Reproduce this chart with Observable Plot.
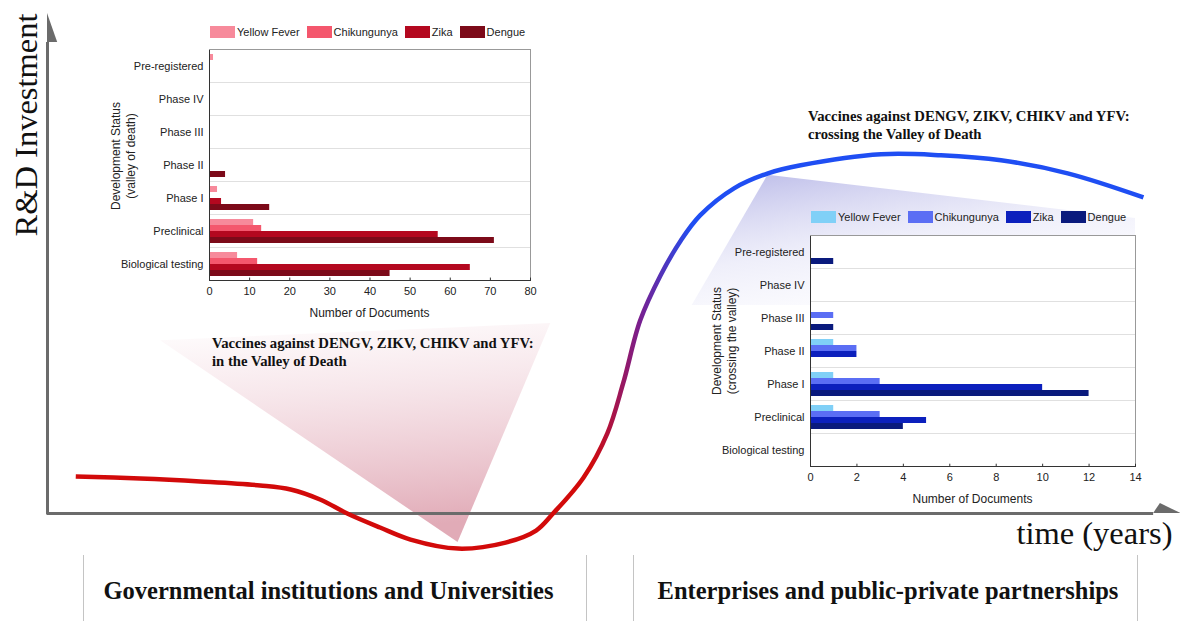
<!DOCTYPE html>
<html><head><meta charset="utf-8">
<script src="https://cdn.jsdelivr.net/npm/d3@7"></script>
<script src="https://cdn.jsdelivr.net/npm/@observablehq/plot@0.6"></script>
<style>
html,body{margin:0;padding:0;background:#fff}
#root{position:relative;width:1180px;height:621px;overflow:hidden;background:#fff}
#root > *{position:absolute;margin:0}
.serif{font-family:"Liberation Serif","Times New Roman",serif;color:#111}
.ann{font-weight:bold;font-size:14.7px;line-height:18px;white-space:nowrap}
.bottom{font-weight:bold;font-size:24.5px;line-height:28px;text-align:center;white-space:nowrap}
.sep{width:0;border-left:1px solid #c4c4c4;top:555px;height:66px}
.lgv-swatch{margin-right:7px !important}
.lgv-swatch > svg{margin-right:2px !important}
.axl{font-family:"Liberation Sans",Arial,sans-serif;font-size:12px;line-height:15px;color:#222;text-align:center;white-space:nowrap;transform:translate(-50%,-50%)}
.axl.rot{transform:translate(-50%,-50%) rotate(-90deg)}
</style></head><body><div id="root"></div>
<script>
// ---------- data ----------
const stages = ["Pre-registered","Phase IV","Phase III","Phase II","Phase I","Preclinical","Biological testing"];
const diseases = ["Yellow Fever","Chikungunya","Zika","Dengue"];
// "in the Valley of Death" (number of documents per stage, stage order above)
const valleyYellowFever = [1,0,0,0,2,11,7];
const valleyChikungunya = [0,0,0,0,0,13,12];
const valleyZika        = [0,0,0,0,3,57,65];
const valleyDengue      = [0,0,0,4,15,71,45];
const valleyTicks = [0,10,20,30,40,50,60,70,80];
const valleyColors = ["#f78a9b","#f4576d","#b4081f","#7c0a19"];
// "crossing the Valley of Death"
const crossingYellowFever = [0,0,0,1,1,1,0];
const crossingChikungunya = [0,0,1,2,3,3,0];
const crossingZika        = [0,0,0,2,10,5,0];
const crossingDengue      = [1,0,1,0,12,4,0];
const crossingTicks = [0,2,4,6,8,10,12,14];
const crossingColors = ["#80d0f7","#5b6ef4","#0c20bd","#0a1a7d"];

// schematic R&D investment curve over time (arbitrary units 0-100)
const curveTime       = [2.5,8.2,13.5,18.8,21.5,24.1,26.5,29.4,32.1,36.3,40.5,43.2,44.7,47.4,49.5,50.9,52.4,54.2,56.0,57.7,60.7,63.7,66.6,73.7,79.0,84.3,90.2,96.9];
const curveInvestment = [7.4,7.0,6.4,5.6,4.8,2.8,0,-2.8,-5.2,-7.0,-5.8,-3.4,0,7.2,16.0,26.0,38.5,47.5,54.5,59.5,64.9,67.9,69.5,71.7,71.5,70.5,67.9,63.1];
const curveColorTime  = [48.0, 52.3, 57.0];
const curveColors     = ["#d20a0a","#7a1f8e","#1f4ef3"];
// spotlight wedges (time, top, bottom)
const valleySpotTime = [10.0, 36.3, 44.5];
const valleySpotTop  = [34.5, 37.1, 37.9];
const valleySpotBottom = [34.5, -5.8, 37.9];
const crossingSpotTime = [57.0, 63.7, 96.2];
const crossingSpotTop  = [41.5, 67.5, 58.9];
const crossingSpotBottom = [41.5, 41.5, 41.5];
// axes extents
const timeAxisEnd = 97.8, investmentAxisEnd = 94.0;
const yArrowTime = [0, 0.9], yArrowLow = [94.0, 94.0], yArrowHigh = [99.8, 94.0];
const xArrowTime = [97.8, 98.4, 100.2], xArrowLow = [0,0,0], xArrowHigh = [0, 2.0, 0];

const root = document.getElementById("root");
const zipRows = (keys, arrays) => arrays[0].map((_, i) => Object.fromEntries(keys.map((k, j) => [k, arrays[j][i]])));

// ---------- background schematic ----------
const curve = zipRows(["t","v"], [curveTime, curveInvestment]);
const valleySpot = zipRows(["t","top","bottom"], [valleySpotTime, valleySpotTop, valleySpotBottom]);
const crossingSpot = zipRows(["t","top","bottom"], [crossingSpotTime, crossingSpotTop, crossingSpotBottom]);
const yArrow = zipRows(["t","lo","hi"], [yArrowTime, yArrowLow, yArrowHigh]);
const xArrow = zipRows(["t","lo","hi"], [xArrowTime, xArrowLow, xArrowHigh]);
const axisGray = "#6b6b6b";
const serif = '"Liberation Serif","Times New Roman",serif';

const bg = Plot.plot({
  width: 1180, height: 621,
  marginLeft: 47, marginRight: 2, marginTop: 12, marginBottom: 108,
  x: {domain: [0, 100], axis: null},
  y: {domain: [0, 100], axis: null},
  style: {background: "transparent", overflow: "visible"},
  marks: [
    Plot.areaY(valleySpot, {x: "t", y1: "top", y2: "bottom", fill: "url(#valleySpot)"}),
    Plot.areaY(crossingSpot, {x: "t", y1: "top", y2: "bottom", fill: "url(#crossingSpot)"}),
    Plot.ruleX([0], {y1: -0.3, y2: investmentAxisEnd, stroke: axisGray, strokeWidth: 3}),
    Plot.ruleY([0], {x1: 0, x2: timeAxisEnd, stroke: axisGray, strokeWidth: 3}),
    Plot.areaY(yArrow, {x: "t", y1: "lo", y2: "hi", fill: axisGray}),
    Plot.areaY(xArrow, {x: "t", y1: "lo", y2: "hi", fill: axisGray}),
    Plot.line(curve, {x: "t", y: "v", curve: "catmull-rom", stroke: "url(#curveGrad)", strokeWidth: 4.5, strokeLinecap: "butt"}),
    Plot.text(["R&D Investment"], {frameAnchor: "top-left", rotate: -90, textAnchor: "end", lineAnchor: "middle", dx: -21, dy: 1, fontSize: 32.5, fontFamily: serif, fill: "#111"}),
    Plot.text(["time (years)"], {frameAnchor: "bottom-right", textAnchor: "end", lineAnchor: "top", dx: -6, dy: 7, fontSize: 32.5, fontFamily: serif, fill: "#111"})
  ]
});
{
  const xs = bg.scale("x");
  const defs = d3.select(bg).insert("defs", ":first-child");
  const cg = defs.append("linearGradient").attr("id", "curveGrad").attr("gradientUnits", "userSpaceOnUse")
    .attr("x1", xs.apply(curveColorTime[0])).attr("x2", xs.apply(curveColorTime[2])).attr("y1", 0).attr("y2", 0);
  curveColorTime.forEach((t, i) => cg.append("stop")
    .attr("offset", (t - curveColorTime[0]) / (curveColorTime[2] - curveColorTime[0]))
    .attr("stop-color", curveColors[i]));
  const vg = defs.append("linearGradient").attr("id", "valleySpot").attr("x1", 0).attr("y1", 0).attr("x2", 0.15).attr("y2", 1);
  vg.append("stop").attr("offset", 0).attr("stop-color", "rgb(225,150,170)").attr("stop-opacity", 0);
  vg.append("stop").attr("offset", 0.35).attr("stop-color", "rgb(220,150,168)").attr("stop-opacity", 0.22);
  vg.append("stop").attr("offset", 1).attr("stop-color", "rgb(205,115,135)").attr("stop-opacity", 0.6);
  const bgc = defs.append("linearGradient").attr("id", "crossingSpot").attr("x1", 0.15).attr("y1", 0).attr("x2", 0.7).attr("y2", 1);
  bgc.append("stop").attr("offset", 0).attr("stop-color", "rgb(150,150,220)").attr("stop-opacity", 0.6);
  bgc.append("stop").attr("offset", 0.5).attr("stop-color", "rgb(190,190,235)").attr("stop-opacity", 0.25);
  bgc.append("stop").attr("offset", 1).attr("stop-color", "rgb(210,210,245)").attr("stop-opacity", 0);
}
bg.style.left = "0px"; bg.style.top = "0px";
root.appendChild(bg);

function addDiv(cls, html, css) { const d = document.createElement("div"); d.className = cls; d.innerHTML = html; Object.assign(d.style, css); root.appendChild(d); return d; }

// ---------- inset bar charts ----------
const sans = '"Liberation Sans", Arial, Helvetica, sans-serif';
function inset({values, colors, xmax, ticks, ylabel, plotW, plotH, left, top}) {
  const data = [];
  diseases.forEach((d, j) => values[j].forEach((v, i) => data.push({stage: stages[i], disease: d, value: v})));
  const mL = 110, mR = 18, mT = 5, mB = 40;
  const lastStage = stages[stages.length - 1];
  const bandH = plotH / stages.length;
  const p = Plot.plot({
    width: mL + plotW + mR, height: mT + plotH + mB,
    marginLeft: mL, marginRight: mR, marginTop: mT, marginBottom: mB,
    style: {fontFamily: sans, fontSize: "11px", color: "#222", background: "transparent", overflow: "visible"},
    x: {domain: [0, xmax], ticks, tickSize: 0, tickPadding: 7, label: null},
    y: {domain: diseases, axis: null, paddingInner: 0, paddingOuter: 0.4},
    fy: {domain: stages, padding: 0, axis: "left", label: null, tickSize: 0, tickPadding: 6},
    color: {domain: diseases, range: colors},
    marks: [
      Plot.frame({fill: "white", stroke: "#e0e0e0"}),
      Plot.barX(data, {x: "value", y: "disease", fy: "stage", fill: "disease"}),
      Plot.ruleX([0], {stroke: "#333"}),
      Plot.ruleX([xmax], {stroke: "#999"}),
      Plot.frame({anchor: "top", stroke: "#999", fy: [stages[0]]}),
      Plot.frame({anchor: "bottom", stroke: "#333", fy: [lastStage]}),
      Plot.ruleX(ticks, {x: d => d, fy: ticks.map(() => lastStage), insetTop: bandH - 3, stroke: "#333"})
    ]
  });
  p.style.left = (left - mL) + "px"; p.style.top = (top - mT) + "px";
  root.appendChild(p);
  const lg = Plot.legend({color: {domain: diseases, range: colors}, legend: "swatches", swatchWidth: 25, swatchHeight: 12,
    className: "lgv", style: {fontFamily: sans, fontSize: "11px", color: "#222", margin: "0"}});
  lg.style.left = (left + 1) + "px"; lg.style.top = (top - 31.5) + "px";
  root.appendChild(lg);
  addDiv("axl", "Number of Documents", {left: (left + plotW / 2) + "px", top: (top + plotH + 31) + "px"});
  addDiv("axl rot", ylabel, {left: (left - 85) + "px", top: (top + plotH / 2 - 9) + "px"});
}
inset({values: [valleyYellowFever, valleyChikungunya, valleyZika, valleyDengue], colors: valleyColors,
  xmax: 80, ticks: valleyTicks, ylabel: "Development Status<br>(valley of death)", plotW: 321, plotH: 235, left: 209, top: 47});
inset({values: [crossingYellowFever, crossingChikungunya, crossingZika, crossingDengue], colors: crossingColors,
  xmax: 14, ticks: crossingTicks, ylabel: "Development Status<br>(crossing the valley)", plotW: 325, plotH: 236, left: 810, top: 232});

// ---------- annotations ----------
addDiv("serif ann", "Vaccines against DENGV, ZIKV, CHIKV and YFV:<br>in the Valley of Death", {left: "212px", top: "334px"});
addDiv("serif ann", "Vaccines against DENGV, ZIKV, CHIKV and YFV:<br>crossing the Valley of Death", {left: "808px", top: "107px"});
[83, 586, 633, 1137].forEach(x => addDiv("sep", "", {left: x + "px"}));
addDiv("serif bottom", "Governmental institutions and Universities", {left: "77px", width: "503px", top: "577px"});
addDiv("serif bottom", "Enterprises and public-private partnerships", {left: "636px", width: "504px", top: "577px"});
</script></body></html>
